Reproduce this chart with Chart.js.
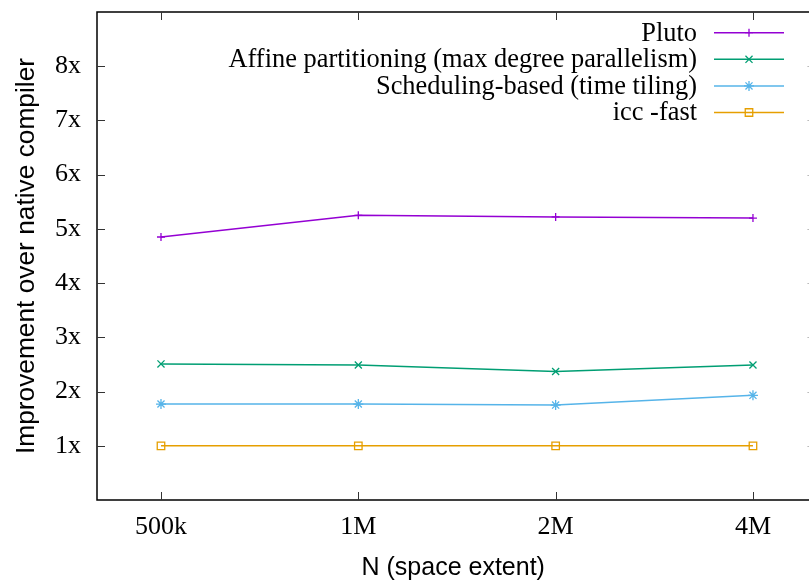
<!DOCTYPE html>
<html><head><meta charset="utf-8">
<script src="https://cdn.jsdelivr.net/npm/chart.js@4"></script>
<style>html,body{margin:0;padding:0;background:#fff;overflow:hidden}#wrap{width:809px;height:581px;overflow:hidden;position:relative;background:#fff}canvas{display:block}</style>
</head><body><div id="wrap"><canvas id="c" width="816" height="581" style="width:816px;height:581px"></canvas></div>
<script>
const categories = ['500k', '1M', '2M', '4M'];
const yTickValues = [1, 2, 3, 4, 5, 6, 7, 8];
const seriesNames = ['Pluto', 'Affine partitioning (max degree parallelism)', 'Scheduling-based (time tiling)', 'icc -fast'];
const pluto = [4.85, 5.25, 5.22, 5.20];
const affine = [2.51, 2.49, 2.37, 2.49];
const scheduling = [1.77, 1.77, 1.75, 1.93];
const icc = [1.0, 1.0, 1.0, 1.0];

const colors = ['#9400d3', '#009e73', '#56b4e9', '#e69f00'];
const styles = ['cross', 'crossRot', 'star', 'rect'];
const radii = [4, 5, 5, 5.3];
const allSeries = [pluto, affine, scheduling, icc];

const SERIF = '"Liberation Serif", "Times New Roman", serif';
const SANS = '"Liberation Sans", Arial, sans-serif';

const datasets = allSeries.map((s, i) => ({
  label: seriesNames[i],
  data: s.map((v, j) => ({x: j, y: v})),
  borderColor: colors[i],
  backgroundColor: colors[i],
  pointBackgroundColor: 'rgba(0,0,0,0)',
  pointBorderColor: colors[i],
  pointStyle: styles[i],
  pointRadius: radii[i],
  pointHoverRadius: radii[i],
  pointBorderWidth: 1.3,
  borderWidth: 1.5,
  fill: false,
  tension: 0,
  clip: false
}));

function drawMarker(ctx, style, r, x, y, color) {
  ctx.save();
  ctx.strokeStyle = color;
  ctx.fillStyle = 'rgba(0,0,0,0)';
  ctx.lineWidth = 1.3;
  if (Chart.helpers && Chart.helpers.drawPoint) {
    Chart.helpers.drawPoint(ctx, {pointStyle: style, radius: r, rotation: 0, borderWidth: 1.3}, x, y);
  }
  ctx.restore();
}

function noPad(s) {
  s.paddingTop = 0; s.paddingBottom = 0; s.paddingLeft = 0; s.paddingRight = 0;
}

const framePlugin = {
  id: 'frame',
  afterDraw(chart) {
    const ctx = chart.ctx;
    const a = chart.chartArea;
    const xs = chart.scales.x, ys = chart.scales.y;
    ctx.save();
    ctx.strokeStyle = '#000';
    ctx.lineWidth = 1.5;
    ctx.beginPath();
    ctx.moveTo(chart.width, a.top);
    ctx.lineTo(a.left, a.top);
    ctx.lineTo(a.left, a.bottom);
    ctx.lineTo(chart.width, a.bottom);
    ctx.stroke();
    ctx.lineWidth = 1;
    ctx.strokeStyle = '#333';
    ctx.beginPath();
    yTickValues.forEach(v => {
      const py = Math.round(ys.getPixelForValue(v)) + 0.5;
      ctx.moveTo(a.left, py); ctx.lineTo(a.left + 8, py);
    });
    categories.forEach((c, i) => {
      const px = Math.round(xs.getPixelForValue(i)) + 0.5;
      ctx.moveTo(px, a.bottom); ctx.lineTo(px, a.bottom - 8);
      ctx.moveTo(px, a.top); ctx.lineTo(px, a.top + 8);
    });
    ctx.stroke();
    // mirrored right ticks, mostly beyond the visible edge
    ctx.strokeStyle = '#bbb';
    ctx.beginPath();
    yTickValues.forEach(v => {
      const py = Math.round(ys.getPixelForValue(v)) + 0.5;
      ctx.moveTo(a.right - 2, py); ctx.lineTo(a.right + 6, py);
    });
    ctx.stroke();

    // legend
    ctx.font = '26.4px ' + SERIF;
    ctx.textAlign = 'right';
    ctx.textBaseline = 'middle';
    chart.data.datasets.forEach((ds, i) => {
      const y = 32.7 + i * 26.6;
      ctx.fillStyle = '#000';
      ctx.fillText(ds.label, 697, y + 1);
      ctx.strokeStyle = ds.borderColor;
      ctx.lineWidth = 1.5;
      ctx.beginPath();
      ctx.moveTo(714, y); ctx.lineTo(784, y);
      ctx.stroke();
      drawMarker(ctx, ds.pointStyle, ds.pointRadius, 749, y, ds.borderColor);
    });
    ctx.restore();
  }
};

new Chart(document.getElementById('c'), {
  type: 'line',
  data: {datasets},
  options: {
    responsive: false,
    animation: false,
    devicePixelRatio: 1,
    layout: {padding: {top: 12, right: 0, left: 0, bottom: 0}},
    plugins: {legend: {display: false}, tooltip: {enabled: false}},
    scales: {
      x: {
        type: 'linear',
        min: -0.3243,
        max: 3.286,
        afterBuildTicks: s => { s.ticks = categories.map((c, i) => ({value: i})); },
        afterFit: s => { s.height = 81; noPad(s); },
        grid: {display: false, drawTicks: false},
        border: {display: false},
        ticks: {
          callback: v => categories[v],
          font: {family: SERIF, size: 26},
          color: '#000',
          padding: 12,
          maxRotation: 0,
          autoSkip: false
        },
        title: {
          display: true,
          text: 'N (space extent)',
          font: {family: SANS, size: 25, lineHeight: 1},
          color: '#000',
          padding: {top: 0, bottom: 0.5}
        }
      },
      y: {
        type: 'linear',
        min: 0,
        max: 9,
        afterBuildTicks: s => { s.ticks = yTickValues.map(v => ({value: v})); },
        afterFit: s => { s.width = 97; noPad(s); },
        grid: {display: false, drawTicks: false},
        border: {display: false},
        ticks: {
          callback: v => v + 'x',
          font: {family: SERIF, size: 26},
          color: '#000',
          padding: 16,
          autoSkip: false
        },
        title: {
          display: true,
          text: 'Improvement over native compiler',
          font: {family: SANS, size: 26.3, lineHeight: 1},
          color: '#000',
          padding: {top: 14, bottom: 0}
        }
      }
    }
  },
  plugins: [framePlugin]
});
</script>
</body></html>
